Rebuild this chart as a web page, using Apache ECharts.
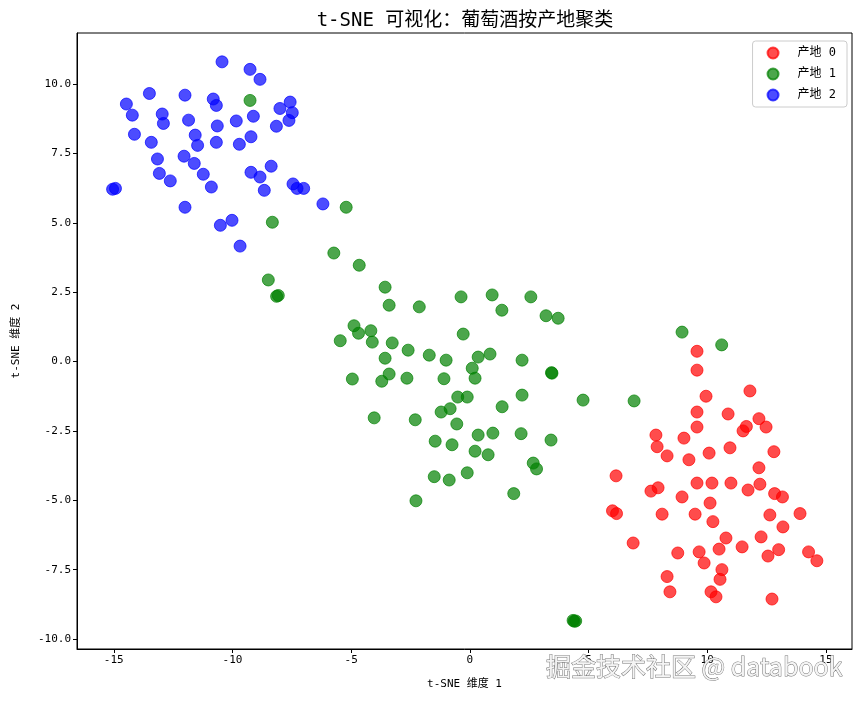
<!DOCTYPE html>
<html>
<head>
<meta charset="utf-8">
<script src="https://cdn.jsdelivr.net/npm/echarts@6/dist/echarts.min.js"></script>
<style>
  html, body { margin: 0; padding: 0; background: #fff; }
  #echart { width: 862px; height: 701px; }
</style>
</head>
<body>
<div id="echart"></div>
<script>
// t-SNE coordinates, one pair of arrays per origin
var origin0X = [9.57, 9.57, 11.80, 9.95, 9.57, 10.88, 12.18, 9.57, 11.65, 11.51, 12.48, 7.84, 9.02, 7.89, 8.31, 9.23, 10.08, 10.96, 12.81, 12.18,
    6.16, 9.57, 10.20, 11.00, 12.22, 11.72, 7.93, 7.63, 12.84, 13.17, 8.94, 10.12, 6.01, 6.18, 8.10, 9.49, 12.64, 13.91, 10.24, 13.19,
    10.79, 12.27, 6.88, 8.76, 9.66, 10.50, 11.47, 13.01, 12.56, 14.27, 14.62, 9.87, 10.62, 10.54, 8.31, 8.43, 10.16, 10.37, 12.73];
var origin0Y = [0.37, -0.31, -1.06, -1.25, -1.82, -1.89, -2.06, -2.36, -2.34, -2.50, -2.36, -2.65, -2.76, -3.07, -3.40, -3.54, -3.30, -3.11, -3.25, -3.83,
    -4.12, -4.38, -4.38, -4.38, -4.42, -4.63, -4.55, -4.67, -4.76, -4.88, -4.88, -5.10, -5.38, -5.48, -5.50, -5.50, -5.53, -5.48, -5.77, -5.96,
    -6.36, -6.32, -6.54, -6.90, -6.86, -6.76, -6.68, -6.78, -7.01, -6.86, -7.18, -7.26, -7.50, -7.85, -7.75, -8.30, -8.30, -8.48, -8.56];

var origin1X = [-9.26, -5.21, -8.32, -5.73, -4.66, -8.49, -8.07, -8.14, -3.57, -3.40, -2.13,
    -0.37, 0.94, 1.35, 2.57, 3.21, 3.72, -4.88, -4.69, -4.17, -4.11, -5.46, -3.27, -0.28, -3.57, -2.60, -1.71, -1.00, 0.35, 0.85,
    2.20, 0.10, 0.22, 3.44, 3.46, -4.95, -3.40, -3.71, -2.65, -1.09, -0.51, -0.11, 2.20, 4.77, 1.36, -0.83, -1.21, -4.03, -2.30, -0.55,
    0.35, 0.97, 2.16, 3.42, -1.46, -0.75, 0.22, 0.77, 2.67, 2.81, -1.50, -0.87, -0.11, 1.85, -2.27,
    8.94, 10.61, 6.92, 4.35, 4.46, 4.40];
var origin1Y = [9.41, 5.56, 5.02, 3.91, 3.47, 2.94, 2.38, 2.35, 2.68, 2.03, 1.97,
    2.33, 2.40, 1.85, 2.33, 1.65, 1.56, 1.29, 1.02, 1.11, 0.70, 0.75, 0.67, 0.99, 0.12, 0.41, 0.23, 0.05, 0.16, 0.27,
    0.05, -0.24, -0.60, -0.40, -0.42, -0.63, -0.45, -0.71, -0.60, -0.62, -1.28, -1.28, -1.21, -1.39, -1.63, -1.70, -1.82, -2.03, -2.10, -2.25,
    -2.65, -2.58, -2.60, -2.83, -2.87, -3.00, -3.23, -3.36, -3.66, -3.87, -4.15, -4.27, -4.01, -4.76, -5.02,
    1.06, 0.60, -1.42, -9.33, -9.35, -9.36];

var origin2X = [-10.44, -9.26, -8.84, -13.50, -12.00, -10.81, -10.68, -14.47, -14.22, -12.96, -12.91, -11.85, -10.64, -9.84, -9.12, -8.00,
    -7.57, -7.48, -7.62, -8.15, -14.13, -13.42, -11.57, -11.47, -10.68, -9.71, -9.22, -13.16, -12.04, -11.61, -13.08, -12.62,
    -11.23, -10.89, -9.22, -8.84, -8.37, -8.66, -7.45, -7.28, -7.00, -15.05, -14.93, -12.00, -6.19, -10.02, -10.51, -9.68];
var origin2Y = [10.80, 10.53, 10.17, 9.66, 9.60, 9.46, 9.23, 9.28, 8.88, 8.92, 8.58, 8.70, 8.49, 8.67, 8.84, 9.12,
    9.35, 8.97, 8.69, 8.48, 8.19, 7.90, 8.16, 7.79, 7.90, 7.83, 8.10, 7.30, 7.40, 7.14, 6.78, 6.51,
    6.75, 6.29, 6.82, 6.65, 7.04, 6.17, 6.40, 6.24, 6.24, 6.21, 6.24, 5.56, 5.68, 5.09, 4.91, 4.16];

var seriesNames = ['产地 0', '产地 1', '产地 2'];
var seriesColors = ['#ff0000', '#008000', '#0000ff'];
var xTicks = [-15, -10, -5, 0, 5, 10, 15];
var yTicks = [-10, -7.5, -5, -2.5, 0, 2.5, 5, 7.5, 10];

function zip(xs, ys) {
    return xs.map(function (x, i) { return [x, ys[i]]; });
}
var groups = [zip(origin0X, origin0Y), zip(origin1X, origin1Y), zip(origin2X, origin2Y)];

var mono = 'DejaVu Sans Mono, Noto Sans CJK SC, monospace';

var chartDom = document.getElementById('echart');
var myChart = echarts.init(chartDom);

var option = {
    animation: false,
    backgroundColor: '#fff',
    title: {
        text: 't-SNE 可视化：葡萄酒按产地聚类',
        left: 460, top: 7, textAlign: 'center',
        textStyle: { fontFamily: mono, fontSize: 19, fontWeight: 'normal', color: '#000' }
    },
    legend: {
        right: 15, top: 41, orient: 'vertical',
        itemWidth: 11, itemHeight: 11, itemGap: 7,
        padding: [5, 11, 5, 14],
        borderColor: '#ccc', borderWidth: 1, borderRadius: 3,
        backgroundColor: '#fff',
        icon: 'circle',
        textStyle: { fontFamily: mono, fontSize: 12, lineHeight: 14, color: '#000', padding: [0, 0, 0, 14] },
        data: seriesNames
    },
    grid: {
        left: 77, right: 10, top: 33, bottom: 52,
        show: true, borderColor: '#000', borderWidth: 1
    },
    xAxis: {
        type: 'value', min: -16.55, max: 16.1,
        name: 't-SNE 维度 1', nameLocation: 'middle', nameGap: 30,
        nameTextStyle: { fontFamily: mono, fontSize: 11, color: '#000' },
        axisLine: { onZero: false, lineStyle: { color: '#000' } },
        axisTick: { length: 4, lineStyle: { color: '#000' }, customValues: xTicks },
        axisLabel: { customValues: xTicks, fontFamily: mono, fontSize: 11, color: '#000', margin: 6 },
        splitLine: { show: false }
    },
    yAxis: {
        type: 'value', min: -10.36, max: 11.84,
        name: 't-SNE 维度 2', nameLocation: 'middle', nameGap: 55,
        nameTextStyle: { fontFamily: mono, fontSize: 11, color: '#000' },
        axisLine: { onZero: false, lineStyle: { color: '#000' } },
        axisTick: { length: 4, lineStyle: { color: '#000' }, customValues: yTicks },
        axisLabel: {
            customValues: yTicks, fontFamily: mono, fontSize: 11, color: '#000', margin: 6,
            formatter: function (v) { return v.toFixed(1); }
        },
        splitLine: { show: false }
    },
    graphic: [{
        type: 'text', right: 19, bottom: 21, z: 100,
        style: {
            text: '掘金技术社区 @ databook',
            font: '25px "Noto Sans CJK SC", sans-serif',
            fill: '#f4f4f4', stroke: '#777', lineWidth: 1
        }
    }],
    series: groups.map(function (pts, i) {
        return {
            name: seriesNames[i], type: 'scatter', data: pts,
            symbolSize: 12,
            itemStyle: { color: seriesColors[i], opacity: 0.7, borderColor: seriesColors[i], borderWidth: 1 }
        };
    })
};

myChart.setOption(option);

window.addEventListener('resize', function () {
    myChart.resize();
});
</script>
</body>
</html>
